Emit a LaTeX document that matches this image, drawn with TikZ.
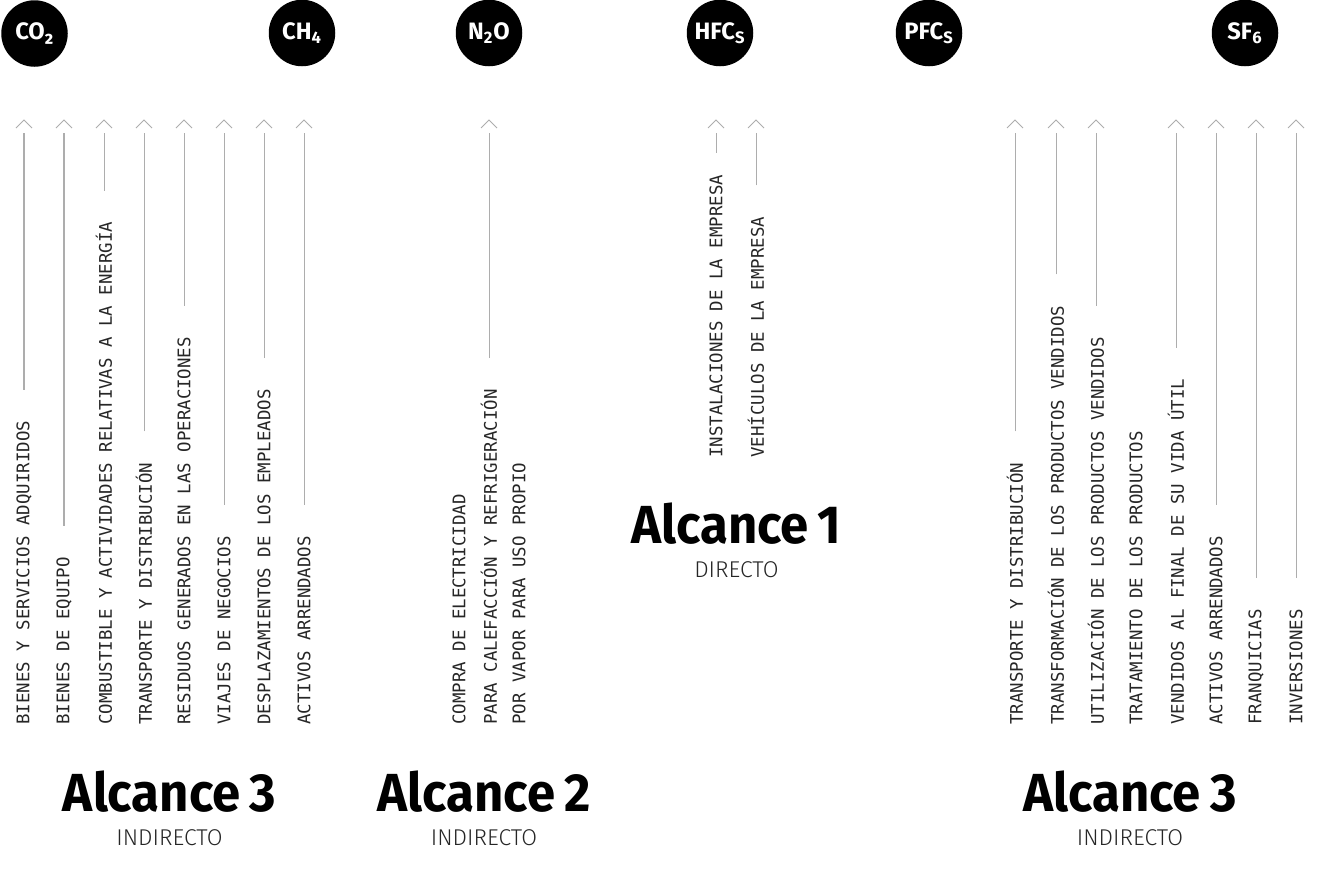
\documentclass[tikz,border=0pt]{standalone}
\usepackage{fontspec}
\setmainfont{Fira Sans}
\newfontfamily\lblfont{DejaVu Sans Mono}
\newfontfamily\ttlfont[FakeStretch=0.95, WordSpace=0.75]{Fira Sans Bold}
\newfontfamily\subfont{Fira Sans Light}
\newfontfamily\gasfont{Fira Sans Bold}
\usepackage{tikz}
\usetikzlibrary{arrows.meta, positioning}

\begin{document}
\begin{tikzpicture}[
    gas/.style={circle, fill=black, text=white, minimum size=1.33cm, inner sep=0pt, font=\gasfont\fontsize{13.5}{13.5}\selectfont},
    lbl/.style={rotate=90, anchor=west, inner sep=0pt, text=black!85, font=\lblfont\fontsize{9.9}{10}\selectfont},
    arr/.style={draw=black!32, line width=0.57pt, shorten <=0.62cm, shorten >=0.26cm},
    chev/.pic={\draw[draw=black!32, line width=0.57pt, shorten <=0pt, shorten >=0pt] (-0.16,-0.16) -- (0,0) -- (0.16,-0.16);},
    ttl/.style={anchor=base, inner sep=0pt, font=\ttlfont\fontsize{30.5}{31}\selectfont},
    sub/.style={anchor=base, inner sep=0pt, text=black!85, font=\subfont\fontsize{13}{13}\selectfont}]
    \useasboundingbox (0,0) rectangle (26.44,-17.46);
    \coordinate (top) at (0,-2.4);
    \node[gas] (co2) at (0.69,-0.67) {CO₂};
    \node[gas] (ch4) at (6.04,-0.66) {CH\textsubscript{4}};
    \node[gas] (n2o) at (9.78,-0.66) {N\textsubscript{2}O};
    \node[gas] (hfc) at (14.40,-0.66) {HFC\textsubscript{S}};
    \node[gas] (pfc) at (18.58,-0.66) {PFC\textsubscript{S}};
    \node[gas] (sf6) at (24.90,-0.66) {SF\textsubscript{6}};
    \node[lbl] (a1) at (0.48,-14.5) {BIENES Y SERVICIOS ADQUIRIDOS};
    \node[lbl] (a2) at (1.28,-14.5) {BIENES DE EQUIPO};
    \node[lbl] (a3) at (2.08,-14.5) {COMBUSTIBLE Y ACTIVIDADES RELATIVAS A LA ENERGÍA};
    \node[lbl] (a4) at (2.88,-14.5) {TRANSPORTE Y DISTRIBUCIÓN};
    \node[lbl] (a5) at (3.68,-14.5) {RESIDUOS GENERADOS EN LAS OPERACIONES};
    \node[lbl] (a6) at (4.48,-14.5) {VIAJES DE NEGOCIOS};
    \node[lbl] (a7) at (5.28,-14.5) {DESPLAZAMIENTOS DE LOS EMPLEADOS};
    \node[lbl] (a8) at (6.08,-14.5) {ACTIVOS ARRENDADOS};
    \node[lbl] (b1) at (9.18,-14.5) {COMPRA DE ELECTRICIDAD};
    \node[lbl] (b2) at (9.78,-14.5) {PARA CALEFACCIÓN Y REFRIGERACIÓN};
    \node[lbl] (b3) at (10.38,-14.5) {POR VAPOR PARA USO PROPIO};
    \node[lbl] (c1) at (14.32,-9.16) {INSTALACIONES DE LA EMPRESA};
    \node[lbl] (c2) at (15.12,-9.16) {VEHÍCULOS DE LA EMPRESA};
    \node[lbl] (d1) at (20.30,-14.5) {TRANSPORTE Y DISTRIBUCIÓN};
    \node[lbl] (d2) at (21.12,-14.5) {TRANSFORMACIÓN DE LOS PRODUCTOS VENDIDOS};
    \node[lbl] (d3) at (21.92,-14.5) {UTILIZACIÓN DE LOS PRODUCTOS VENDIDOS};
    \node[lbl] (d4) at (22.72,-14.5) {TRATAMIENTO DE LOS PRODUCTOS};
    \node[lbl] (d5) at (23.52,-14.5) {VENDIDOS AL FINAL DE SU VIDA ÚTIL};
    \node[lbl] (d6) at (24.32,-14.5) {ACTIVOS ARRENDADOS};
    \node[lbl] (d7) at (25.12,-14.5) {FRANQUICIAS};
    \node[lbl] (d8) at (25.92,-14.5) {INVERSIONES};
    \draw[arr] (a1.east) -- (a1.east |- top) pic {chev};
    \draw[arr] (a2.east) -- (a2.east |- top) pic {chev};
    \draw[arr] (a3.east) -- (a3.east |- top) pic {chev};
    \draw[arr] (a4.east) -- (a4.east |- top) pic {chev};
    \draw[arr] (a5.east) -- (a5.east |- top) pic {chev};
    \draw[arr] (a6.east) -- (a6.east |- top) pic {chev};
    \draw[arr] (a7.east) -- (a7.east |- top) pic {chev};
    \draw[arr] (a8.east) -- (a8.east |- top) pic {chev};
    \draw[arr] (b2.east) -- (b2.east |- top) pic {chev};
    \draw[arr, shorten <=0.44cm] (c1.east) -- (c1.east |- top) pic {chev};
    \draw[arr] (c2.east) -- (c2.east |- top) pic {chev};
    \draw[arr] (d1.east) -- (d1.east |- top) pic {chev};
    \draw[arr] (d2.east) -- (d2.east |- top) pic {chev};
    \draw[arr] (d3.east) -- (d3.east |- top) pic {chev};
    \draw[arr] (d5.east) -- (d5.east |- top) pic {chev};
    \draw[arr] (d6.east) -- (d6.east |- top) pic {chev};
    \draw[arr] (d7.east) -- (d7.east |- top) pic {chev};
    \draw[arr] (d8.east) -- (d8.east |- top) pic {chev};
    \node[ttl] (s3l) at (3.39,-16.22) {Alcance 3};
    \node[sub] (i3l) at (3.39,-16.9) {INDIRECTO};
    \node[ttl] (s2) at (9.68,-16.22) {Alcance 2};
    \node[sub] (i2) at (9.68,-16.9) {INDIRECTO};
    \node[ttl] (s1) at (14.73,-10.86) {Alcance 1};
    \node[sub] (i1) at (14.73,-11.54) {DIRECTO};
    \node[ttl] (s3r) at (22.60,-16.22) {Alcance 3};
    \node[sub] (i3r) at (22.60,-16.9) {INDIRECTO};
  \end{tikzpicture}
\end{document}
